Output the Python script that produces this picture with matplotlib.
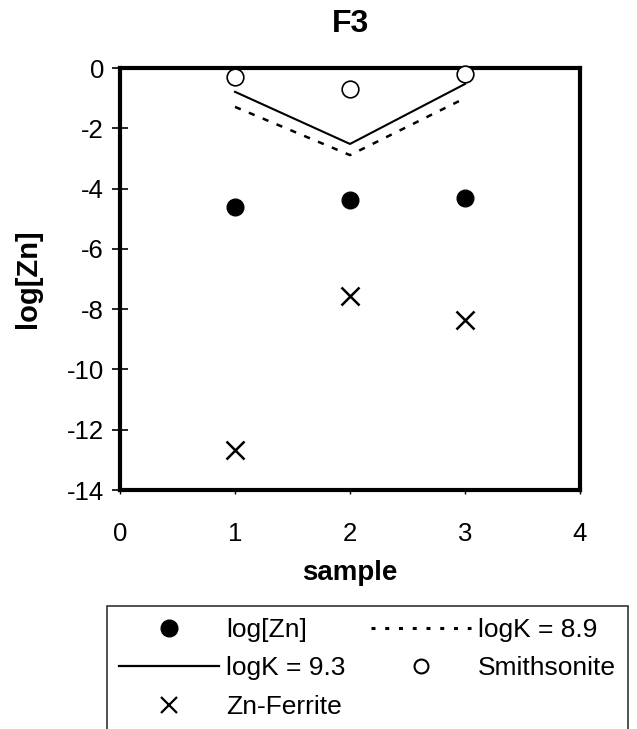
import matplotlib.pyplot as plt
from matplotlib.lines import Line2D

plt.rcParams['font.family'] = ['Liberation Sans', 'DejaVu Sans']
plt.rcParams['axes.unicode_minus'] = False

# data
samples = [1, 2, 3]
log_zn = [-4.6, -4.38, -4.32]
smithsonite = [-0.3, -0.7, -0.2]
logk_93 = [-0.79, -2.52, -0.53]
logk_89 = [-1.29, -2.89, -1.0]
zn_ferrite = [-12.67, -7.56, -8.36]

W, H = 637, 729
fig = plt.figure(figsize=(W / 100, H / 100), dpi=100)
ax = fig.add_axes([120 / W, 1 - 490 / H, 460 / W, 422 / H])

dash_plot = (0, (2.5, 3.5))
dash_leg = (0, (1.3, 3.2))

ax.plot(samples, log_zn, 'o', color='black', markersize=12, label='log[Zn]')
ax.plot(samples, logk_93, '-', color='black', lw=1.5, label='logK = 9.3')
ax.plot(samples, zn_ferrite, 'x', color='black', markersize=13, mew=1.8, label='Zn-Ferrite')
ax.plot(samples, logk_89, color='black', lw=1.8, ls=dash_plot, label='logK = 8.9')
ax.plot(samples, smithsonite, 'o', mfc='white', mec='black', mew=1.2, markersize=12,
        label='Smithsonite', clip_on=False, zorder=5)

ax.set_xlim(0, 4)
ax.set_ylim(-14, 0)
ax.set_xticks(range(0, 5))
ax.set_yticks(range(-14, 1, 2))
ax.tick_params(axis='y', direction='inout', length=11, width=1.2, labelsize=18.5, pad=6)
ax.tick_params(axis='x', direction='out', length=3, width=1, labelsize=18.5, pad=20)
for s in ax.spines.values():
    s.set_linewidth(3)

ax.set_xlabel('sample', fontsize=20, fontweight='bold', labelpad=10)
ax.set_ylabel('log[Zn]', fontsize=21, fontweight='bold', labelpad=18)
ax.set_title('F3', fontsize=23, fontweight='bold', pad=26)

handles = [
    Line2D([], [], marker='o', ls='none', color='black', markersize=12),
    Line2D([], [], color='black', lw=1.6),
    Line2D([], [], marker='x', ls='none', color='black', markersize=11, mew=1.6),
    Line2D([], [], color='black', lw=2.2, ls=dash_leg),
    Line2D([], [], marker='o', ls='none', mfc='white', mec='black', mew=1.5, markersize=10),
]
labels = ['log[Zn]', 'logK = 9.3', 'Zn-Ferrite', 'logK = 8.9', 'Smithsonite']
leg = fig.legend(handles, labels, ncol=2, loc='upper left',
                 bbox_to_anchor=(107 / W, 1 - 606 / H),
                 fontsize=19, frameon=True, fancybox=False, edgecolor='black',
                 handlelength=3.8, handletextpad=0.27, columnspacing=0.95,
                 labelspacing=0.55, borderpad=0.45, borderaxespad=0)
leg.get_frame().set_linewidth(1.2)

fig.savefig('out.png', dpi=100)
